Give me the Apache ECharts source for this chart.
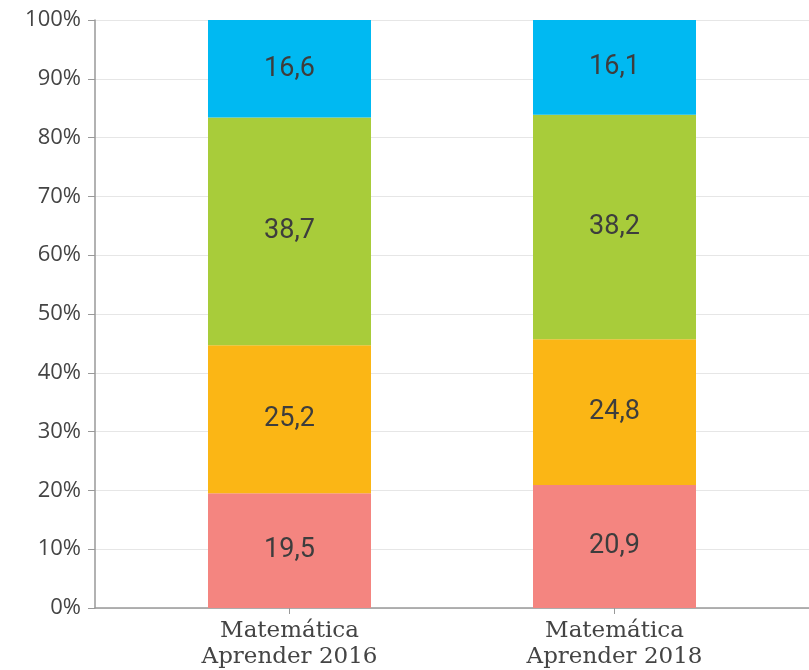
<!DOCTYPE html>
<html><head><meta charset="utf-8">
<script src="https://cdn.jsdelivr.net/npm/echarts@6/dist/echarts.min.js"></script>
<style>html,body{margin:0;padding:0;background:#fff}#c{width:809px;height:670px}</style>
</head><body><div id="c"></div>
<script>
const categories = ['Matemática\nAprender 2016', 'Matemática\nAprender 2018'];
const level1 = [19.5, 20.9];
const level2 = [25.2, 24.8];
const level3 = [38.7, 38.2];
const level4 = [16.6, 16.1];
const yTicks = [0, 10, 20, 30, 40, 50, 60, 70, 80, 90, 100];
const colors = ['#F48580', '#FBB615', '#A8CC3A', '#00B9F2'];

const chart = echarts.init(document.getElementById('c'));
const labelStyle = {
  show: true, position: 'inside', color: '#3d3d3d',
  fontFamily: 'Liberation Sans Narrow, Roboto, sans-serif', fontSize: 27,
  formatter: p => String(p.value).replace('.', ',')
};
const mk = (data, i) => ({
  type: 'bar', stack: 's', data: data, xAxisIndex: 1, yAxisIndex: 1,
  barWidth: 163, itemStyle: { color: colors[i] }, label: labelStyle, silent: true
});
chart.setOption({
  animation: false,
  grid: [
    { left: 95, right: 0, top: 20, bottom: 62 },
    { left: 127, right: 32, top: 20, bottom: 62 }
  ],
  xAxis: [
    { gridIndex: 0, type: 'value', min: 0, max: 1, axisLabel: { show: false },
      axisTick: { show: false }, splitLine: { show: false },
      axisLine: { show: true, lineStyle: { color: '#999', width: 1.5 } } },
    { gridIndex: 1, type: 'category', data: categories,
      axisLine: { show: false },
      axisTick: { show: true, alignWithLabel: true, length: 6, lineStyle: { color: '#999' } },
      axisLabel: { color: '#444', fontFamily: 'DejaVu Serif, serif', fontSize: 23, lineHeight: 26, margin: 10 } }
  ],
  yAxis: [
    { gridIndex: 0, type: 'value', min: 0, max: 100, interval: 10,
      axisLabel: { formatter: v => v + '%', color: '#444', fontFamily: 'Open Sans, sans-serif', fontSize: 22, margin: 14 },
      axisLine: { show: true, lineStyle: { color: '#999', width: 1.5 } },
      axisTick: { show: true, length: 7, lineStyle: { color: '#999' } },
      splitLine: { show: true, lineStyle: { color: '#e6e6e6' } } },
    { gridIndex: 1, type: 'value', min: 0, max: 100, show: false }
  ],
  series: [mk(level1, 0), mk(level2, 1), mk(level3, 2), mk(level4, 3)]
});
</script></body></html>
